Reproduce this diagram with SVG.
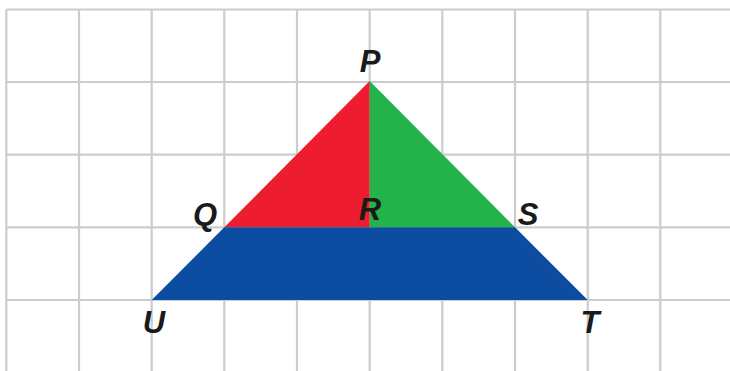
<svg xmlns="http://www.w3.org/2000/svg" width="730" height="371" viewBox="0 0 730 371">
<style>
.grid line{stroke:#cccccc;stroke-width:2.2}
.lbl{font-family:"Liberation Sans",Arial,sans-serif;font-weight:bold;font-style:italic;font-size:31px;fill:#1a1a1a;text-anchor:middle}
</style>
<rect width="730" height="371" fill="#ffffff"/>
<g id="grid" class="grid">
<line x1="6.3" y1="9.5" x2="730" y2="9.5"/>
<line x1="6.3" y1="82" x2="730" y2="82"/>
<line x1="6.3" y1="154.7" x2="730" y2="154.7"/>
<line x1="6.3" y1="227.3" x2="730" y2="227.3"/>
<line x1="6.3" y1="300" x2="730" y2="300"/>
<line x1="6.3" y1="9.5" x2="6.3" y2="371"/>
<line x1="79" y1="9.5" x2="79" y2="371"/>
<line x1="151.7" y1="9.5" x2="151.7" y2="371"/>
<line x1="224.3" y1="9.5" x2="224.3" y2="371"/>
<line x1="297" y1="9.5" x2="297" y2="371"/>
<line x1="369.7" y1="9.5" x2="369.7" y2="371"/>
<line x1="442.3" y1="9.5" x2="442.3" y2="371"/>
<line x1="515" y1="9.5" x2="515" y2="371"/>
<line x1="587.7" y1="9.5" x2="587.7" y2="371"/>
<line x1="660.3" y1="9.5" x2="660.3" y2="371"/>
</g>
<g id="shapes">
<polygon id="PQR" points="369.7,81 224.3,227.3 369.7,227.3" fill="#ed1c2e"/>
<polygon id="PRS" points="369.7,81 369.7,227.3 515,227.3" fill="#24b24b"/>
<polygon id="QSTU" points="224.3,227.3 515,227.3 587.7,300 151.7,300" fill="#0d4da1"/>
</g>
<g id="labels">
<text class="lbl" x="370" y="71.5">P</text>
<text class="lbl" x="205" y="224.5">Q</text>
<text class="lbl" x="370" y="219.5">R</text>
<text class="lbl" x="528" y="225">S</text>
<text class="lbl" x="154" y="333">U</text>
<text class="lbl" x="590" y="332.5">T</text>
</g>
</svg>
